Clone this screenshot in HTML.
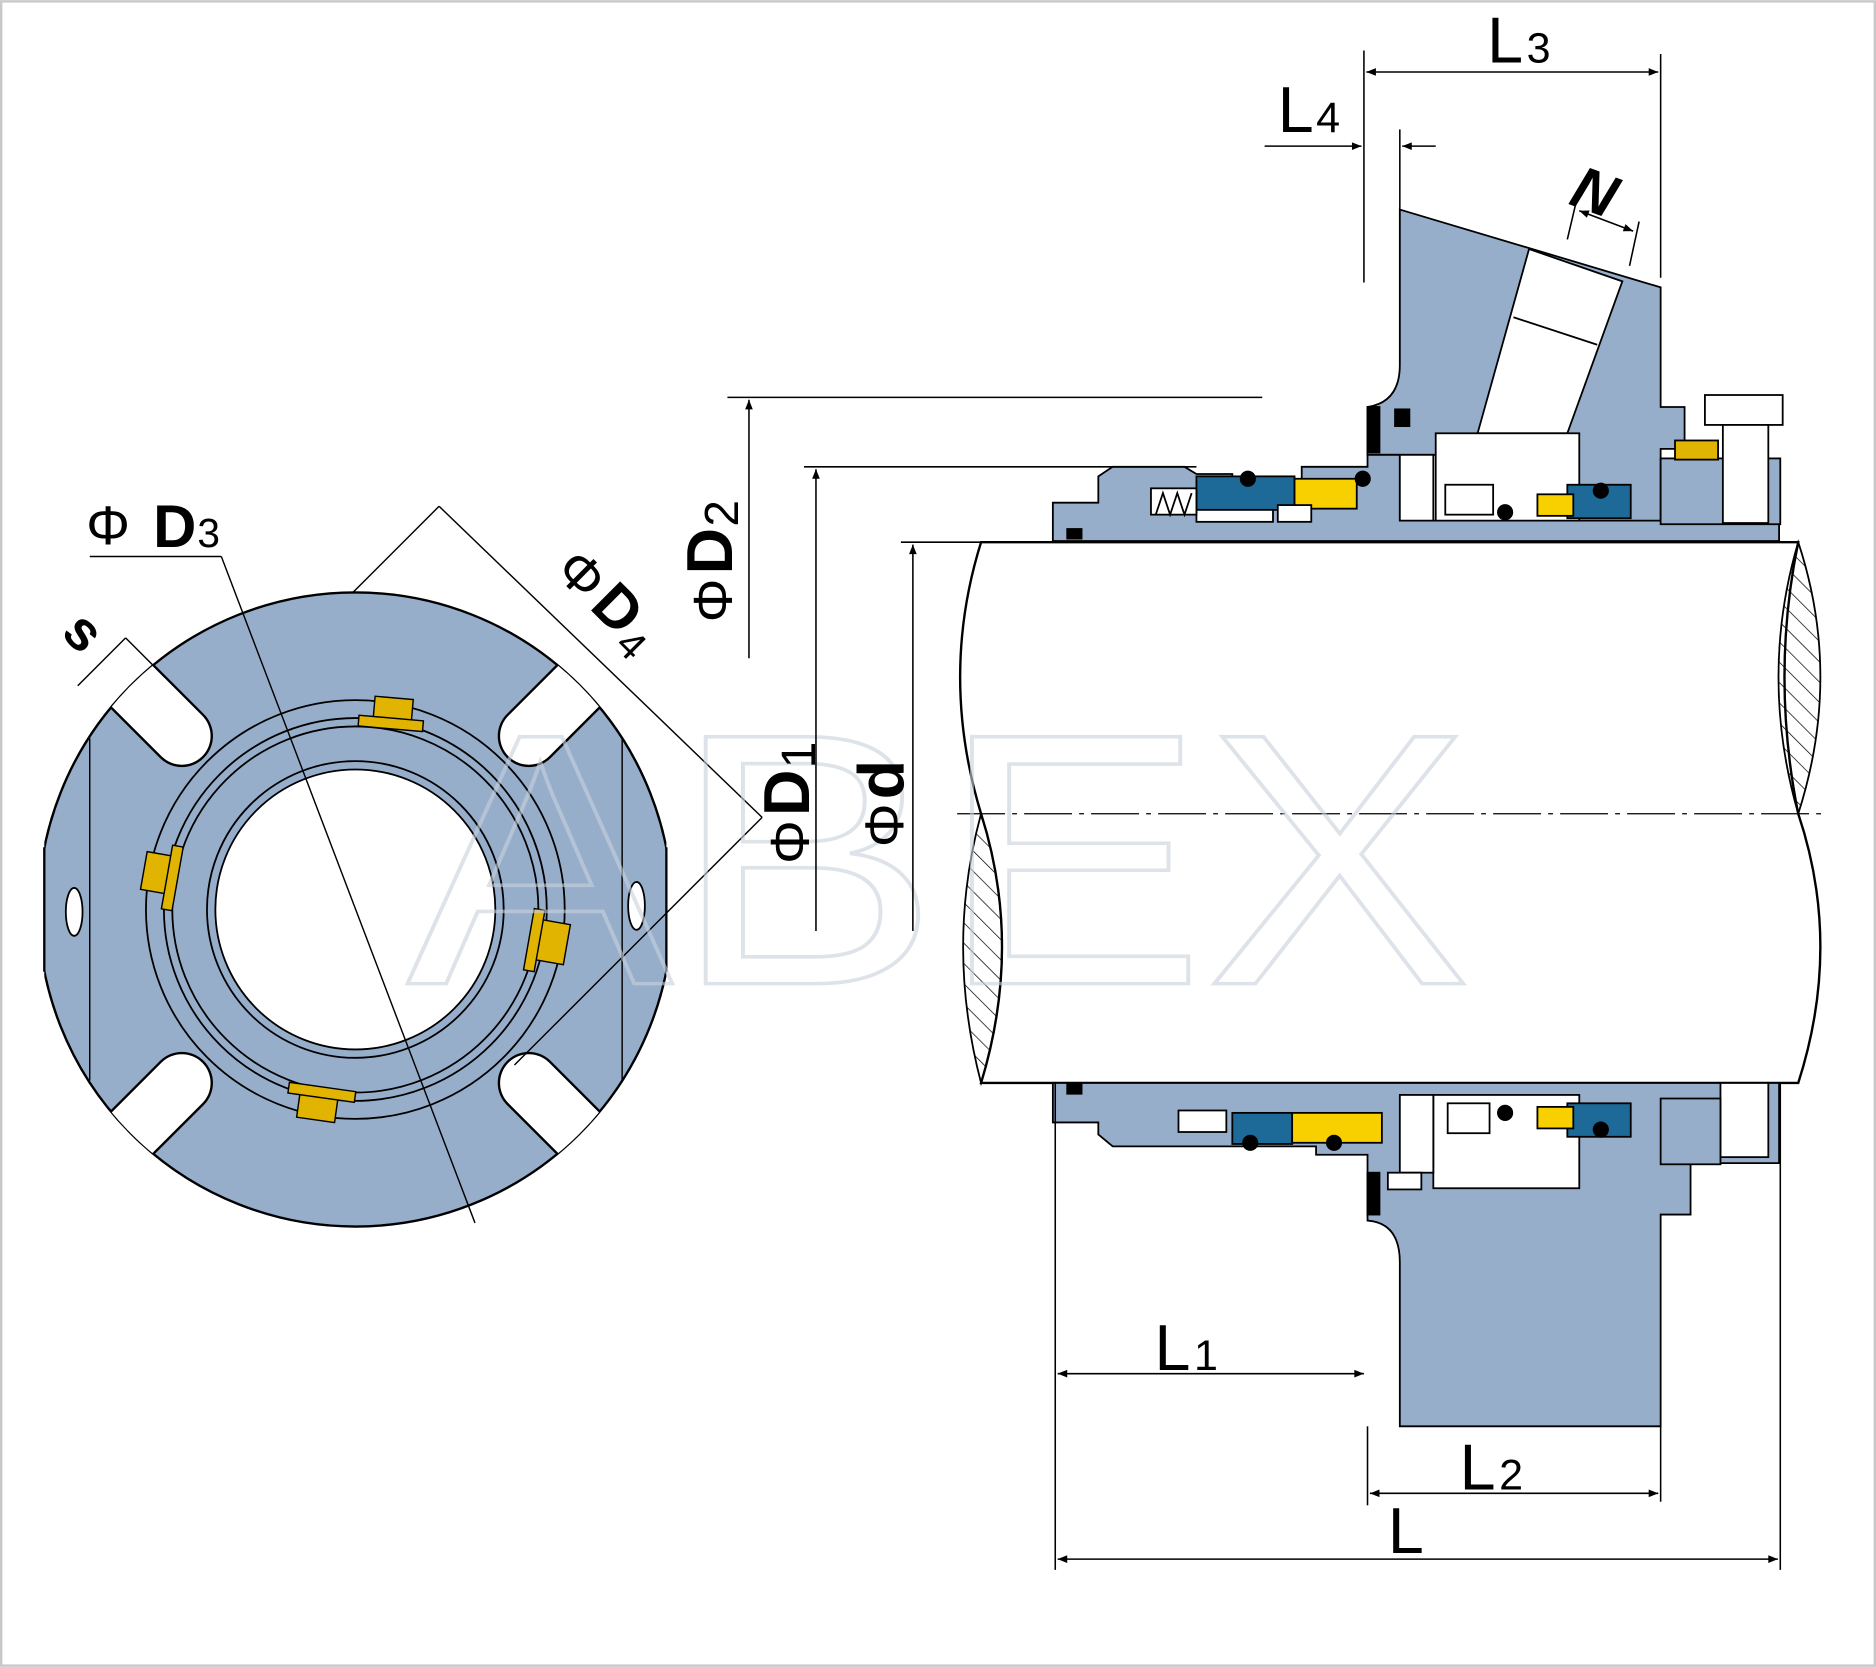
<!DOCTYPE html>
<html><head><meta charset="utf-8"><style>html,body{margin:0;padding:0;background:#fff}svg{display:block}</style></head><body>
<svg width="1876" height="1667" viewBox="0 0 1568 1393" xmlns="http://www.w3.org/2000/svg" font-family="Liberation Sans, sans-serif">
<defs>
<clipPath id="fl"><circle cx="297" cy="760" r="265"/></clipPath>
<clipPath id="flr"><rect x="37" y="400" width="520" height="700"/></clipPath>
<pattern id="hatch" width="12" height="12" patternUnits="userSpaceOnUse" patternTransform="rotate(-45)"><line x1="0" y1="0" x2="0" y2="12" stroke="#000" stroke-width="1.2"/></pattern>
<marker id="ar" viewBox="0 0 10 10" refX="10" refY="5" markerWidth="12" markerHeight="8" markerUnits="userSpaceOnUse" orient="auto-start-reverse"><path d="M0,1 L10,5 L0,9 z" fill="#000"/></marker>
</defs>
<rect x="1" y="1" width="1566" height="1391" fill="#fff"/>

<!-- LEFT FLANGE -->
<line x1="367" y1="423" x2="292" y2="498" stroke="#000" stroke-width="1.2"/>
<g clip-path="url(#flr)">
<circle cx="297" cy="760" r="265" fill="#97aecb" stroke="#000" stroke-width="2"/>
</g>
<line x1="37" y1="708" x2="37" y2="812" stroke="#000" stroke-width="2"/>
<line x1="557" y1="708" x2="557" y2="812" stroke="#000" stroke-width="2"/>
<g clip-path="url(#fl)" stroke-linecap="round">
<g stroke="#000" stroke-width="52">
<line x1="152" y1="615" x2="-100" y2="363"/><line x1="442" y1="615" x2="700" y2="357"/>
<line x1="152" y1="905" x2="-100" y2="1157"/><line x1="442" y1="905" x2="700" y2="1163"/>
</g>
<g stroke="#fff" stroke-width="48">
<line x1="152" y1="615" x2="-100" y2="363"/><line x1="442" y1="615" x2="700" y2="357"/>
<line x1="152" y1="905" x2="-100" y2="1157"/><line x1="442" y1="905" x2="700" y2="1163"/>
</g>
</g>
<rect x="3" y="400" width="33" height="700" fill="#fff"/>
<rect x="558" y="400" width="40" height="700" fill="#fff"/>
<line x1="75" y1="617" x2="75" y2="903" stroke="#000" stroke-width="1.2"/>
<line x1="520" y1="617" x2="520" y2="903" stroke="#000" stroke-width="1.2"/>
<ellipse cx="62" cy="762" rx="7" ry="20" fill="#fff" stroke="#000" stroke-width="1.5"/>
<ellipse cx="532" cy="757" rx="7" ry="20" fill="#fff" stroke="#000" stroke-width="1.5"/>
<circle cx="297" cy="760" r="175" fill="#97aecb" stroke="#000" stroke-width="1.5"/>
<circle cx="297" cy="760" r="160" fill="none" stroke="#000" stroke-width="1.5"/>
<circle cx="297" cy="760" r="153" fill="none" stroke="#000" stroke-width="1.5"/>
<circle cx="297" cy="760" r="124" fill="#97aecb" stroke="#000" stroke-width="1.5"/>
<circle cx="297" cy="760" r="117" fill="#fff" stroke="#000" stroke-width="1.5"/>
<g fill="#e0b400" stroke="#000" stroke-width="1.2">
<g transform="rotate(5 327 600)"><rect x="312" y="583" width="32" height="22"/><rect x="300" y="600" width="54" height="9"/></g>
<g transform="rotate(10 135 730)"><rect x="120" y="714" width="24" height="32"/><rect x="140" y="705" width="9" height="54"/></g>
<g transform="rotate(10 460 787)"><rect x="450" y="770" width="24" height="34"/><rect x="442" y="762" width="9" height="52"/></g>
<g transform="rotate(8 266 920)"><rect x="250" y="914" width="32" height="22"/><rect x="240" y="908" width="56" height="9"/></g>
</g>
<line x1="367" y1="423" x2="637" y2="683" stroke="#000" stroke-width="1.2"/>
<line x1="637" y1="683" x2="430" y2="890" stroke="#000" stroke-width="1.2"/>
<line x1="75" y1="465" x2="185" y2="465" stroke="#000" stroke-width="1.2"/>
<line x1="185" y1="465" x2="397" y2="1022" stroke="#000" stroke-width="1.2"/>
<line x1="65" y1="573" x2="105" y2="533" stroke="#000" stroke-width="1.2"/>
<line x1="105" y1="533" x2="138" y2="566" stroke="#000" stroke-width="1.2"/>
<text x="72" y="455" font-size="46">Φ</text><text x="128" y="457" font-size="50" font-weight="bold">D</text><text x="165" y="457" font-size="34">3</text>
<g transform="translate(462,478) rotate(45)"><text x="0" y="0" font-size="46">Φ</text><text x="42" y="0" font-size="50" font-weight="bold">D</text><text x="80" y="8" font-size="34">4</text></g>
<text transform="translate(50,530) rotate(45)" font-size="46" font-weight="bold">s</text>

<!-- RIGHT SHAFT -->
<path d="M820,453 L1503,453 Q1480,565 1503,680 Q1540,790 1503,905 L820,905 Q855,790 820,680 Q785,565 820,453 Z" fill="#fff" stroke="#000" stroke-width="2"/>
<path d="M820,680 Q855,790 820,905 Q790,790 820,680 Z" fill="url(#hatch)" stroke="#000" stroke-width="1.5"/>
<path d="M1503,453 Q1540,565 1503,680 Q1470,565 1503,453 Z" fill="url(#hatch)" stroke="#000" stroke-width="1.5"/>
<line x1="800" y1="680" x2="1525" y2="680" stroke="#000" stroke-width="1" stroke-dasharray="40,6,4,6"/>

<!-- TOP SEAL -->
<g stroke="#000" stroke-width="1.5">
<path d="M1170,175 L1388,240 L1388,340 L1408,340 L1408,375 L1388,375 L1388,437 L1210,437 L1210,380 L1143,380 L1143,340 Q1170,336 1170,305 Z" fill="#97aecb"/>
<path d="M880,452 L880,420 L918,420 L918,398 L930,390 L990,390 L1000,396 L1030,396 L1030,405 L1088,405 L1088,390 L1143,390 L1143,380 L1170,380 L1170,435 L1487,435 L1487,452 Z" fill="#97aecb"/>
<rect x="1388" y="383" width="100" height="55" fill="#97aecb"/>
<path d="M1278,208 L1356,235 L1310,362 L1235,362 Z" fill="#fff"/>
<line x1="1265" y1="265" x2="1335" y2="288"/>
<rect x="1200" y="362" width="120" height="73" fill="#fff"/>
<rect x="1170" y="380" width="28" height="55" fill="#fff"/>
<rect x="1425" y="330" width="65" height="25" fill="#fff"/>
<rect x="1440" y="355" width="38" height="82" fill="#fff"/>
<rect x="1000" y="398" width="82" height="28" fill="#1d6a98"/>
<rect x="1082" y="400" width="52" height="25" fill="#f8d000"/>
<rect x="1000" y="426" width="64" height="10" fill="#fff"/>
<rect x="1068" y="422" width="28" height="14" fill="#fff"/>
<rect x="1310" y="405" width="53" height="28" fill="#1d6a98"/>
<rect x="1285" y="413" width="30" height="18" fill="#f8d000"/>
<rect x="1400" y="368" width="36" height="16" fill="#e0b400"/>
<rect x="962" y="408" width="38" height="22" fill="#fff"/>
<path d="M966,430 l6,-18 l6,18 l6,-18 l6,18 l6,-18" fill="none"/>
<rect x="1208" y="405" width="40" height="25" fill="#fff"/>
<rect x="1143" y="340" width="10" height="38" fill="#000"/>
<rect x="1166" y="342" width="12" height="14" fill="#000"/>
<circle cx="1043" cy="400" r="6" fill="#000"/>
<circle cx="1139" cy="400" r="6" fill="#000"/>
<circle cx="1258" cy="428" r="6" fill="#000"/>
<circle cx="1338" cy="410" r="6" fill="#000"/>
<rect x="892" y="442" width="12" height="8" fill="#000"/>
</g>

<!-- BOTTOM SEAL -->
<g stroke="#000" stroke-width="1.5">
<path d="M880,905 L1487,905 L1487,972 L1413,972 L1413,1015 L1388,1015 L1388,1192 L1170,1192 L1170,1055 Q1170,1022 1143,1020 L1143,965 L1100,965 L1100,958 L930,958 L918,948 L918,938 L880,938 Z" fill="#97aecb"/>
<rect x="1198" y="915" width="122" height="78" fill="#fff"/>
<rect x="1170" y="915" width="28" height="65" fill="#fff"/>
<rect x="1160" y="980" width="28" height="14" fill="#fff"/>
<rect x="1438" y="905" width="40" height="62" fill="#fff"/>
<rect x="1388" y="918" width="50" height="55" fill="#97aecb"/>
<rect x="1030" y="930" width="50" height="26" fill="#1d6a98"/>
<rect x="1080" y="930" width="75" height="25" fill="#f8d000"/>
<rect x="985" y="928" width="40" height="18" fill="#fff"/>
<rect x="1210" y="922" width="35" height="25" fill="#fff"/>
<rect x="1310" y="922" width="53" height="28" fill="#1d6a98"/>
<rect x="1285" y="925" width="30" height="18" fill="#f8d000"/>
<rect x="1143" y="980" width="10" height="35" fill="#000"/>
<circle cx="1045" cy="955" r="6" fill="#000"/>
<circle cx="1115" cy="955" r="6" fill="#000"/>
<circle cx="1258" cy="930" r="6" fill="#000"/>
<circle cx="1338" cy="944" r="6" fill="#000"/>
<rect x="892" y="906" width="12" height="8" fill="#000"/>
</g>

<!-- watermark -->
<text x="340" y="822" font-size="300" fill="none" stroke="#c8d0dc" stroke-opacity="0.6" stroke-width="3" textLength="890" lengthAdjust="spacingAndGlyphs">ABEX</text>

<!-- DIMENSIONS -->
<g stroke="#000" stroke-width="1.3" fill="none">
<line x1="1140" y1="42" x2="1140" y2="236"/>
<line x1="1388" y1="45" x2="1388" y2="232"/>
<line x1="1142" y1="60" x2="1386" y2="60" marker-start="url(#ar)" marker-end="url(#ar)"/>
<line x1="1057" y1="122" x2="1138" y2="122" marker-end="url(#ar)"/>
<line x1="1200" y1="122" x2="1172" y2="122" marker-end="url(#ar)"/>
<line x1="1170" y1="108" x2="1170" y2="175"/>
<line x1="1320" y1="176" x2="1365" y2="193" marker-start="url(#ar)" marker-end="url(#ar)"/>
<line x1="1318" y1="166" x2="1310" y2="200"/><line x1="1370" y1="185" x2="1362" y2="222"/>
<line x1="608" y1="332" x2="1055" y2="332"/>
<line x1="626" y1="550" x2="626" y2="334" marker-end="url(#ar)"/>
<line x1="672" y1="390" x2="1000" y2="390"/>
<line x1="682" y1="778" x2="682" y2="392" marker-end="url(#ar)"/>
<line x1="753" y1="453" x2="820" y2="453"/>
<line x1="763" y1="778" x2="763" y2="455" marker-end="url(#ar)"/>
<line x1="882" y1="905" x2="882" y2="1312"/>
<line x1="1143" y1="1192" x2="1143" y2="1258"/>
<line x1="1388" y1="1192" x2="1388" y2="1255"/>
<line x1="1488" y1="905" x2="1488" y2="1312"/>
<line x1="884" y1="1148" x2="1140" y2="1148" marker-start="url(#ar)" marker-end="url(#ar)"/>
<line x1="1145" y1="1248" x2="1386" y2="1248" marker-start="url(#ar)" marker-end="url(#ar)"/>
<line x1="884" y1="1303" x2="1486" y2="1303" marker-start="url(#ar)" marker-end="url(#ar)"/>
</g>
<g font-size="54">
<text x="1243" y="52">L</text><text x="1276" y="52" font-size="36">3</text>
<text x="1068" y="110">L</text><text x="1100" y="110" font-size="36">4</text>
<text x="965" y="1145">L</text><text x="998" y="1145" font-size="36">1</text>
<text x="1220" y="1245">L</text><text x="1253" y="1245" font-size="36">2</text>
<text x="1160" y="1298">L</text>
<text transform="translate(1310,170) rotate(20)" font-size="50" font-weight="bold" font-style="italic">N</text>
<g transform="translate(612,520) rotate(-90)"><text x="0" y="0" font-size="46">Φ</text><text x="40" y="0" font-size="54" font-weight="bold">D</text><text x="80" y="5" font-size="40">2</text></g>
<g transform="translate(676,722) rotate(-90)"><text x="0" y="0" font-size="46">Φ</text><text x="40" y="0" font-size="54" font-weight="bold">D</text><text x="80" y="5" font-size="40">1</text></g>
<g transform="translate(755,708) rotate(-90)"><text x="0" y="0" font-size="46">Φ</text><text x="40" y="0" font-size="54" font-weight="bold">d</text></g>
</g>
<rect x="1" y="1" width="1566" height="1391" fill="none" stroke="#c8c8c8" stroke-width="2"/>
</svg>
</body></html>
